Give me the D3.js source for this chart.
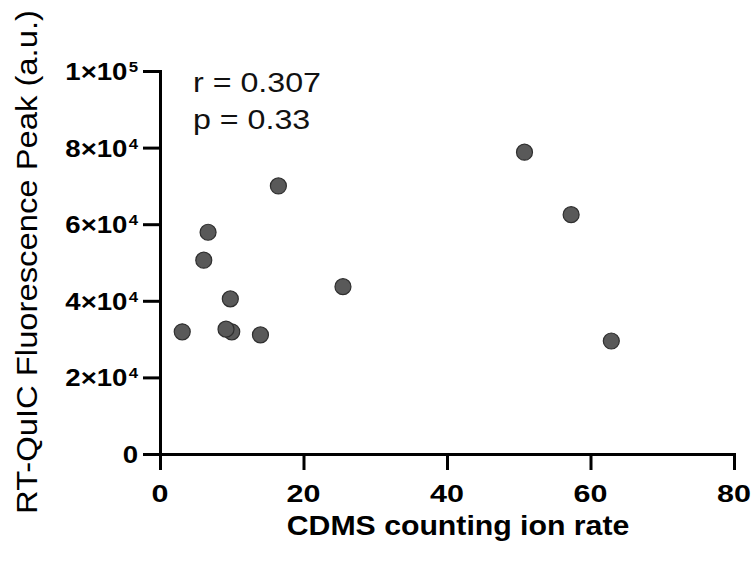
<!DOCTYPE html>
<html>
<head>
<meta charset="utf-8">
<script src="https://cdn.jsdelivr.net/npm/d3@7"></script>
<style>
  html, body { margin: 0; padding: 0; background: #fff; }
  svg { display: block; font-family: "Liberation Sans", Arial, sans-serif; }
</style>
</head>
<body>
<svg id="chart" width="754" height="561"></svg>
<script>
// 数据
var ionRate = [3.1, 6.1, 6.7, 10.0, 9.2, 9.8, 14.0, 16.5, 25.5, 50.8, 57.3, 62.9];
var fluoPeak = [31900, 50600, 57900, 31900, 32600, 40500, 31100, 70000, 43700, 78800, 62500, 29500];
var xTicks = [0, 20, 40, 60, 80];
var yTicks = [0, 20000, 40000, 60000, 80000, 100000];
var yTickLabels = [["0", ""], ["2×10", "4"], ["4×10", "4"], ["6×10", "4"], ["8×10", "4"], ["1×10", "5"]];
var statLines = ["r = 0.307", "p = 0.33"];

var svg = d3.select("#chart");

var x = d3.scaleLinear().domain([0, 80]).range([160, 734]);
var y = d3.scaleLinear().domain([0, 100000]).range([454, 71]);

// 坐标轴
var gx = svg.append("g")
    .attr("transform", "translate(0," + y(0) + ")")
    .call(d3.axisBottom(x).tickValues(xTicks).tickFormat("").tickSizeInner(16).tickSizeOuter(0));
var gy = svg.append("g")
    .attr("transform", "translate(" + x(0) + ",0)")
    .call(d3.axisLeft(y).tickValues(yTicks).tickFormat("").tickSizeInner(17).tickSizeOuter(0));
[gx, gy].forEach(function (g) {
    g.selectAll("path.domain").attr("stroke", "#000").attr("stroke-width", 3).attr("stroke-linecap", "square");
    g.selectAll(".tick line").attr("stroke", "#000").attr("stroke-width", 3);
});

// x tick labels
svg.append("g").selectAll("text").data(xTicks).enter().append("text")
    .attr("transform", function (d) { return "translate(" + x(d) + ",502) scale(1.27,1)"; })
    .attr("text-anchor", "middle")
    .style("font-size", "24px").style("font-weight", "bold").attr("fill", "#000")
    .text(function (d) { return d; });

// y tick labels
var yl = svg.append("g").selectAll("text").data(yTicks).enter().append("text")
    .attr("transform", function (d) { return "translate(138," + (y(d) + 9) + ") scale(1.2,1)"; })
    .attr("text-anchor", "end")
    .style("font-size", "23px").style("font-weight", "bold").attr("fill", "#000");
yl.append("tspan").text(function (d, i) { return yTickLabels[i][0]; });
yl.append("tspan").attr("dx", 1).attr("dy", -8).style("font-size", "14px")
    .text(function (d, i) { return yTickLabels[i][1]; });

// 散点
svg.append("g").selectAll("circle").data(ionRate).enter().append("circle")
    .attr("cx", function (d) { return x(d); })
    .attr("cy", function (d, i) { return y(fluoPeak[i]); })
    .attr("r", 8)
    .attr("fill", "#595959")
    .attr("stroke", "#2f2f2f")
    .attr("stroke-width", 1.2);

// r / p
svg.append("g").selectAll("text").data(statLines).enter().append("text")
    .attr("transform", function (d, i) { return "translate(193," + (92 + i * 37) + ") scale(1.15,1)"; })
    .style("font-size", "28px").attr("fill", "#111")
    .text(function (d) { return d; });

// 标题
svg.append("text")
    .attr("transform", "translate(458,535) scale(1.08,1)")
    .attr("text-anchor", "middle")
    .style("font-size", "28px").style("font-weight", "bold").attr("fill", "#000")
    .text("CDMS counting ion rate");
svg.append("text")
    .attr("transform", "translate(37,262) rotate(-90) scale(1.13,1)")
    .attr("text-anchor", "middle")
    .style("font-size", "29px").attr("fill", "#000")
    .text("RT-QuIC Fluorescence Peak (a.u.)");
</script>
</body>
</html>
